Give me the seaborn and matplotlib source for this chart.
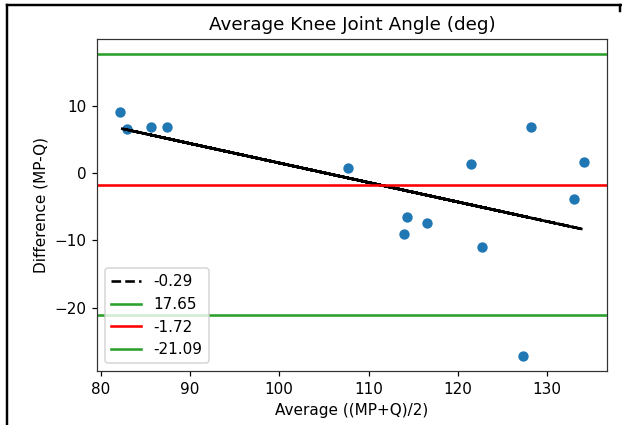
import numpy as np
import pandas as pd
import matplotlib
matplotlib.use("Agg")
import matplotlib.pyplot as plt
from matplotlib.lines import Line2D
import seaborn as sns

# Bland-Altman data: mean of the two methods vs. their difference (MP - Q)
avg = [82.2, 83.0, 85.6, 87.4, 107.7, 114.0, 114.3, 116.5,
       121.5, 122.7, 127.3, 128.2, 133.0, 134.1]
diff = [9.1, 6.5, 6.8, 6.8, 0.8, -9.0, -6.6, -7.4,
        1.4, -11.0, -27.2, 6.9, -3.9, 1.6]
# order in which the points were recorded (trend line is traced in this order)
order = [4, 0, 10, 7, 2, 12, 5, 9, 1, 13, 6, 3, 11, 8]

slope = -0.29
intercept = 30.5
upper_loa = 17.65
mean_diff = -1.72
lower_loa = -21.09

df = pd.DataFrame({"avg": avg, "diff": diff})

DPI = 110
fig = plt.figure(figsize=(622 / DPI, 425 / DPI), dpi=DPI)
ax = fig.add_axes([97 / 622, 1 - 371 / 425, 510 / 622, (371 - 39.3) / 425])

sns.scatterplot(data=df, x="avg", y="diff", ax=ax, color="#1f77b4",
                s=46, linewidth=0, legend=False, zorder=2)

xs = np.array(avg)[order]
ax.plot(xs, intercept + slope * xs, "k--", linewidth=1.7, label=f"{slope:.2f}")
ax.axhline(upper_loa, color="tab:green", linewidth=1.7, label=f"{upper_loa:.2f}")
ax.axhline(mean_diff, color="red", linewidth=1.7, label=f"{mean_diff:.2f}")
ax.axhline(lower_loa, color="tab:green", linewidth=1.7, label=f"{lower_loa:.2f}")

for sp in ax.spines.values():
    sp.set_color("#333333")

ax.set_title("Average Knee Joint Angle (deg)")
ax.set_xlabel("Average ((MP+Q)/2)")
ax.set_ylabel("Difference (MP-Q)")
ax.set_xticks([80, 90, 100, 110, 120, 130])
ax.set_yticks([-20, -10, 0, 10])
ax.legend(loc="lower left")

# outer frame along the left and top edges
fig.add_artist(Line2D([7 / 622, 7 / 622], [0, 1 - 5 / 425], transform=fig.transFigure,
                      color="black", linewidth=1.6))
fig.add_artist(Line2D([7 / 622, 1], [1 - 5 / 425, 1 - 5 / 425], transform=fig.transFigure,
                      color="black", linewidth=1.6))
fig.add_artist(Line2D([620 / 622, 620 / 622], [1 - 5 / 425, 1 - 11 / 425], transform=fig.transFigure,
                      color="black", linewidth=1.6))

fig.savefig("out.png", dpi=DPI)
